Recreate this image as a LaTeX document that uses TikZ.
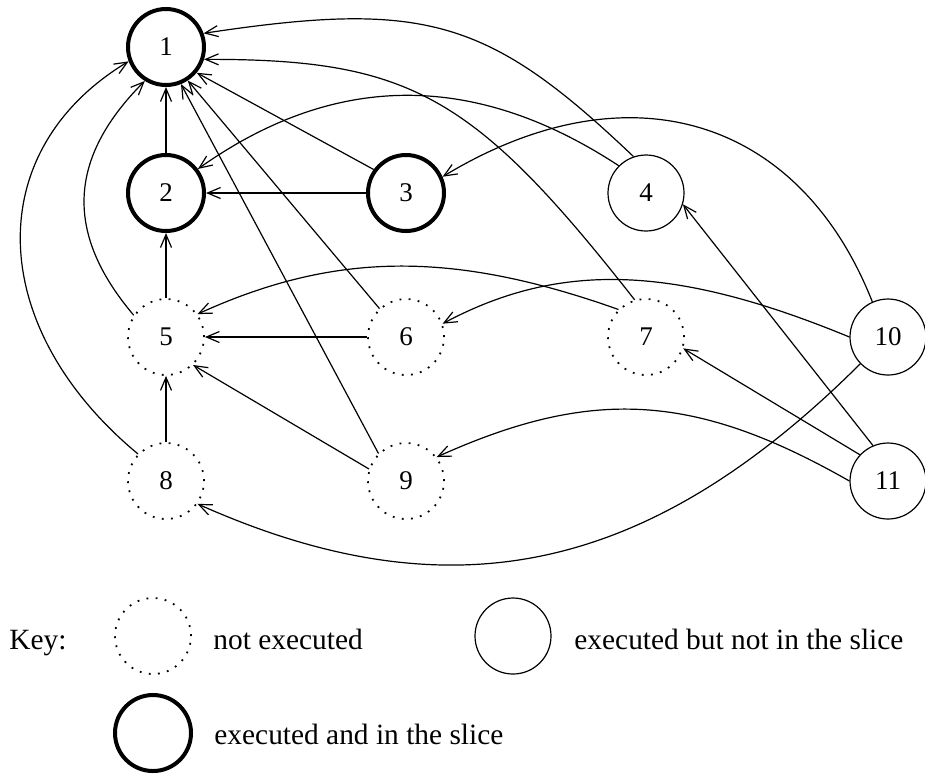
\documentclass[tikz,border=0pt]{standalone}
\usepackage{fontspec}
\setmainfont{Liberation Serif}
\usetikzlibrary{arrows.meta}
\begin{document}
\begin{tikzpicture}[x=0.5pt,y=-0.5pt,
  stmt/.style={circle, minimum size=38pt, inner sep=0pt, font=\fontsize{13.5}{16}\selectfont},
  sliced/.style={stmt, draw, line width=2pt},
  ran/.style={stmt, draw, line width=0.6pt},
  skipped/.style={stmt, draw, line width=0.9pt, dash pattern=on 0.9pt off 3.7pt},
  dep/.style={line width=0.6pt, -{Straight Barb[length=6.5pt,width=5.5pt]}},
  keytext/.style={anchor=base west, inner sep=0pt, font=\fontsize{14.7}{17}\selectfont}]
\useasboundingbox (0,0) rectangle (925,773);

% statements of the program
\node[sliced]  (n1)  at (166,47)  {1};
\node[sliced]  (n2)  at (166,193) {2};
\node[sliced]  (n3)  at (406,193) {3};
\node[ran]     (n4)  at (646,193) {4};
\node[skipped] (n5)  at (166,337) {5};
\node[skipped] (n6)  at (406,337) {6};
\node[skipped] (n7)  at (646,337) {7};
\node[ran]     (n10) at (888,337) {10};
\node[skipped] (n8)  at (166,481) {8};
\node[skipped] (n9)  at (406,481) {9};
\node[ran]     (n11) at (888,481) {11};

% straight dependences
\draw[dep] (n2) -- (n1);
\draw[dep] (n3) -- (n2);
\draw[dep] (n3.144) -- (n1.-40);
\draw[dep] (n6.133) -- (n1.-57);
\draw[dep] (n9.135) -- (n1.-68);
\draw[dep] (n5) -- (n2);
\draw[dep] (n6) -- (n5);
\draw[dep] (n9.162) -- (n5.-46);
\draw[dep] (n8) -- (n5);
\draw[dep] (n11.113) -- (n4.-17);
\draw[dep] (n11.137) -- (n7.-17);

% curved dependences
\draw[dep] (n4.109) .. controls (488,18) and (424,0) .. (n1.20);
\draw[dep] (n7.107) .. controls (474,95) and (410,59) .. (n1.-18);
\draw[dep] (n4.135) .. controls (476,72) and (336,71) .. (n2.37);
\draw[dep] (n10.114) .. controls (799,116) and (627,65) .. (n3.24);
\draw[dep] (n10.180) .. controls (675,265) and (560,261) .. (n6.20);
\draw[dep] (n7.135) .. controls (454,251) and (336,251) .. (n5.36);
\draw[dep] (n5.146) .. controls (64,233) and (68,158) .. (n1.238);
\draw[dep] (n8.136) .. controls (-14,328) and (-20,151) .. (n1.201);
\draw[dep] (n10.224) .. controls (649,574) and (451,617) .. (n8.-36);
\draw[dep] (n11.180) .. controls (695,393) and (592,387) .. (n9.38);

% key
\node[keytext] (keylabel) at (9,649) {Key:};
\node[skipped] (k1) at (153,636) {};
\node[keytext] (k1text) at (213,649) {not executed};
\node[ran] (k2) at (513,636) {};
\node[keytext] (k2text) at (574,649) {executed but not in the slice};
\node[sliced] (k3) at (153,733) {};
\node[keytext] (k3text) at (214,744) {executed and in the slice};
\end{tikzpicture}
\end{document}
